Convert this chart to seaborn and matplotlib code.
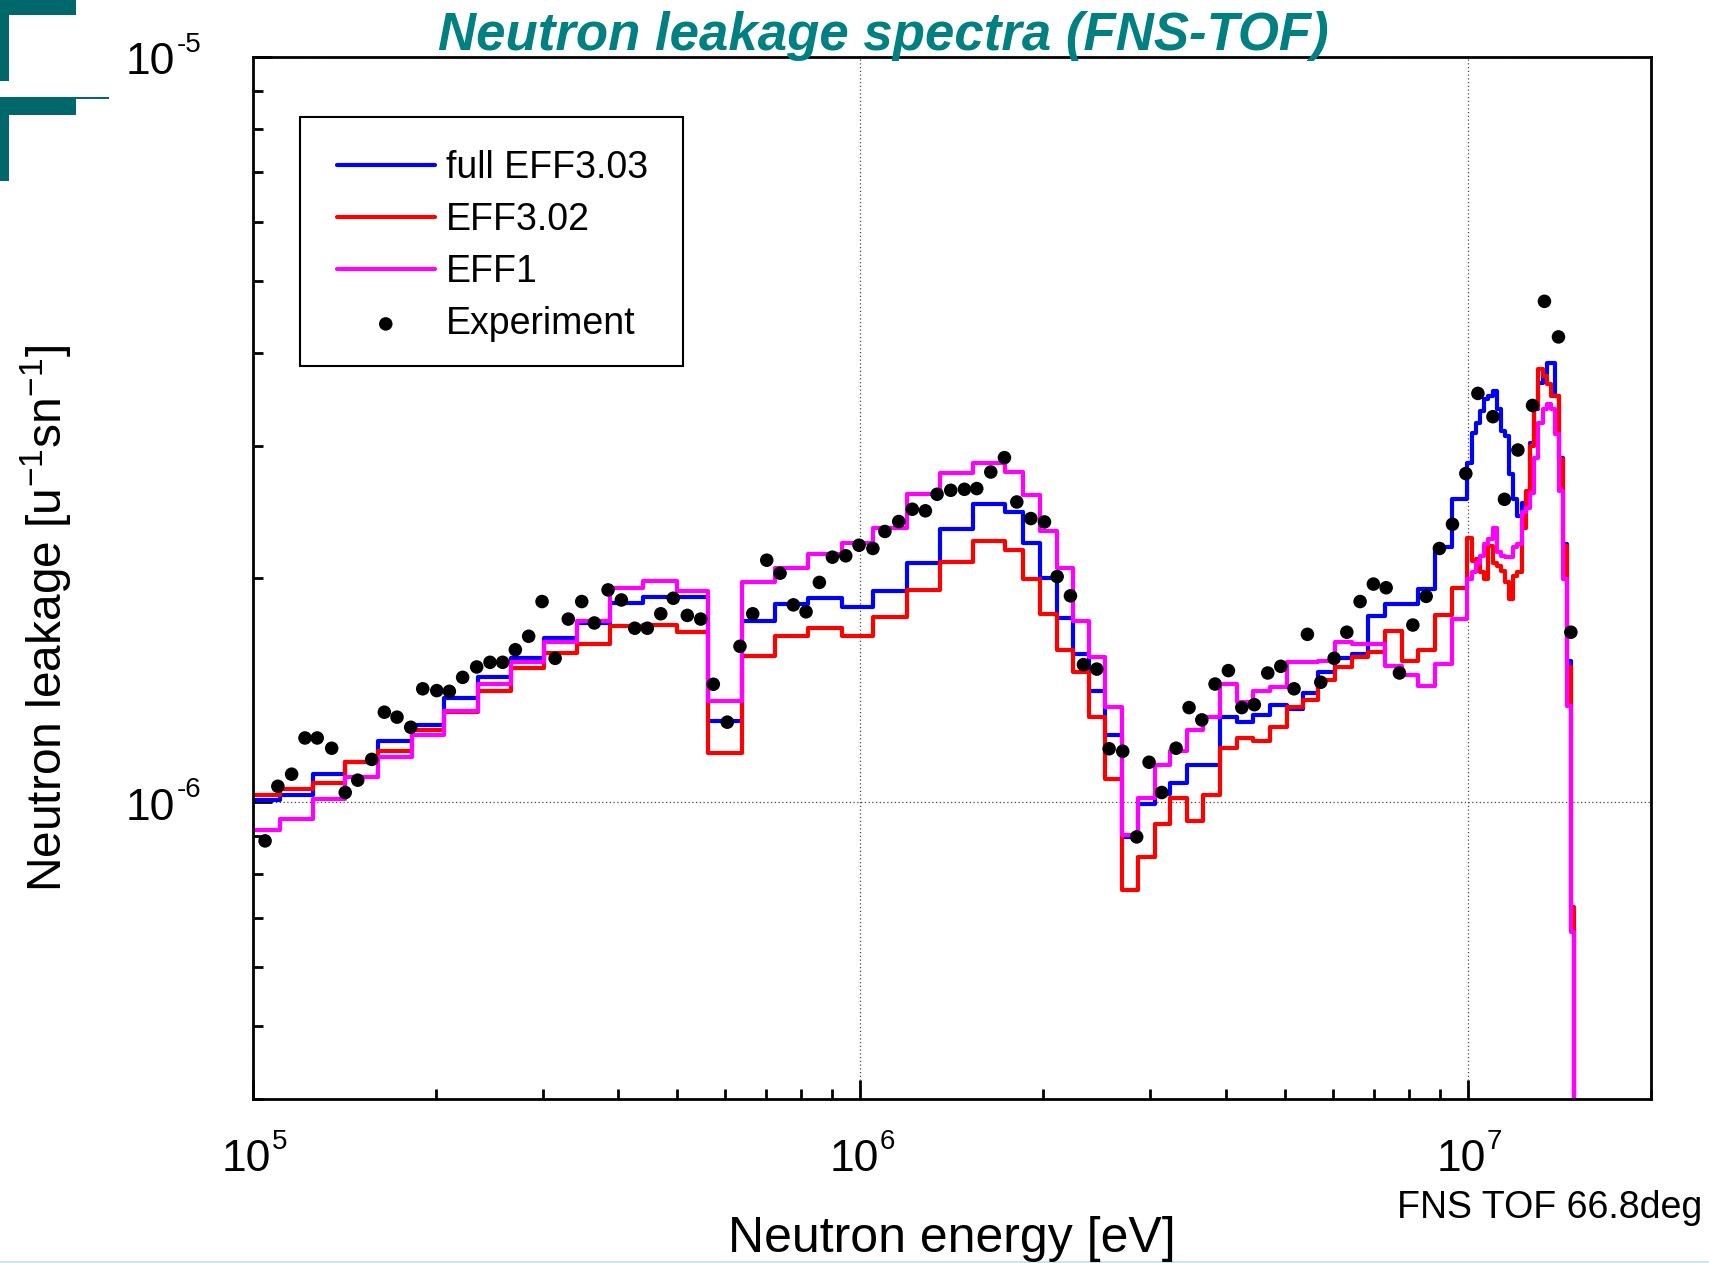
import numpy as np
import pandas as pd
import matplotlib.pyplot as plt
import seaborn as sns
from matplotlib.patches import Rectangle
from matplotlib.ticker import LogLocator, NullFormatter

sns.set_theme(style="white")
plt.rcParams['font.family'] = ['Liberation Sans', 'DejaVu Sans']
plt.rcParams['text.color'] = 'black'
plt.rcParams['mathtext.fontset'] = 'custom'
plt.rcParams['mathtext.rm'] = 'Liberation Sans'
plt.rcParams['mathtext.it'] = 'Liberation Sans:italic'
plt.rcParams['mathtext.bf'] = 'Liberation Sans:bold'

W, H = 1709, 1263

# group boundaries in MeV (common to the three calculations)
edges_mev = [0.1000, 0.1109, 0.1258, 0.1419, 0.1610, 0.1827, 0.2065, 0.2352, 0.2659, 0.3016,
             0.3422, 0.3874, 0.4396, 0.4988, 0.5623, 0.6381, 0.7240, 0.8214, 0.9322, 1.051,
             1.193, 1.353, 1.536, 1.731, 1.856, 1.977, 2.106, 2.243, 2.380, 2.529,
             2.695, 2.870, 3.057, 3.236, 3.447, 3.671, 3.911, 4.166, 4.437, 4.727,
             5.035, 5.363, 5.677, 6.047, 6.441, 6.861, 7.309, 7.785, 8.293, 8.834,
             9.411, 9.985, 10.15, 10.32, 10.48, 10.64, 10.81, 11.00, 11.16, 11.33,
             11.52, 11.70, 11.89, 12.07, 12.27, 12.47, 12.66, 12.86, 13.07, 13.29,
             13.49, 13.70, 13.92, 14.12, 14.33, 14.55, 14.77, 14.96, 15.19]

# leakage per group, units of 1e-6 /u/sn
eff303 = [1.008, 1.021, 1.089, 1.133, 1.209, 1.270, 1.380, 1.470, 1.561, 1.658, 1.739, 1.849, 1.886, 1.886,
          1.286, 1.748, 1.843, 1.878, 1.828, 1.917, 2.090, 2.323, 2.510, 2.447, 2.223, 1.997, 1.766, 1.580,
          1.408, 1.231,
          0.898, 0.995, 1.026, 1.060, 1.120, 1.120, 1.300, 1.280, 1.310, 1.351, 1.333, 1.400, 1.496, 1.560,
          1.580, 1.778, 1.843, 1.843, 1.931, 2.196, 2.549,
          2.854, 3.131, 3.229, 3.346, 3.469, 3.504, 3.558, 3.364, 3.146, 3.098, 2.753, 2.549, 2.421, 2.523,
          2.575, 3.035, 3.364, 3.652, 3.747, 3.885, 3.885, 3.504, 2.898, 2.218, 1.546, 0.677, 0.2]

eff302 = [1.021, 1.042, 1.061, 1.131, 1.170, 1.250, 1.320, 1.411, 1.513, 1.583, 1.630, 1.721, 1.728, 1.692,
          1.163, 1.569, 1.669, 1.710, 1.669, 1.769, 1.927, 2.100, 2.237, 2.177, 1.995, 1.787, 1.601, 1.493,
          1.300, 1.075,
          0.761, 0.844, 0.935, 1.012, 0.942, 1.021, 1.181, 1.218, 1.209, 1.260, 1.341, 1.372, 1.459, 1.516,
          1.564, 1.591, 1.697, 1.547, 1.601, 1.784, 1.935,
          2.264, 2.106, 2.118, 2.033, 1.991, 2.206, 2.096, 2.074, 2.043, 1.971, 1.873, 2.011, 2.033, 2.335,
          2.615, 3.003, 3.381, 3.805, 3.727, 3.633, 3.504, 3.504, 2.883, 2.206, 1.518, 0.724, 0.2]

eff1 = [0.916, 0.948, 1.010, 1.079, 1.151, 1.231, 1.326, 1.440, 1.540, 1.638, 1.751, 1.935, 1.981, 1.920,
        1.368, 1.971, 2.058, 2.150, 2.223, 2.335, 2.589, 2.767, 2.854, 2.776, 2.581, 2.311, 2.060, 1.751,
        1.564, 1.341,
        0.902, 1.012, 1.120, 1.172, 1.251, 1.300, 1.440, 1.361, 1.411, 1.426, 1.543, 1.543, 1.547, 1.641,
        1.630, 1.630, 1.524, 1.480, 1.433, 1.532, 1.760,
        1.991, 2.033, 2.096, 2.139, 2.218, 2.253, 2.335, 2.162, 2.139, 2.129, 2.129, 2.196, 2.218, 2.447,
        2.484, 2.602, 2.898, 3.229, 3.364, 3.416, 3.364, 3.114, 2.615, 1.991, 1.346, 0.670, 0.2]

# FNS TOF measurement (eV, 1e-6 /u/sn)
exp_energy = [1.048e5, 1.100e5, 1.159e5, 1.219e5, 1.277e5, 1.349e5, 1.420e5, 1.489e5, 1.570e5, 1.647e5,
              1.728e5, 1.820e5, 1.905e5, 2.009e5, 2.107e5, 2.216e5, 2.337e5, 2.458e5, 2.579e5, 2.706e5,
              2.846e5, 2.994e5, 3.146e5, 3.307e5, 3.480e5, 3.650e5, 3.845e5, 4.044e5, 4.254e5, 4.462e5,
              4.695e5, 4.923e5, 5.192e5, 5.462e5, 5.730e5, 6.041e5, 6.339e5, 6.653e5, 7.016e5, 7.379e5,
              7.761e5, 8.143e5, 8.564e5, 8.998e5, 9.465e5, 9.954e5, 1.049e6, 1.098e6, 1.157e6, 1.218e6,
              1.280e6, 1.338e6, 1.409e6, 1.484e6, 1.555e6, 1.640e6, 1.727e6, 1.810e6, 1.909e6, 2.010e6,
              2.109e6, 2.218e6, 2.330e6, 2.451e6, 2.568e6, 2.704e6, 2.851e6, 2.988e6, 3.135e6, 3.310e6,
              3.477e6, 3.649e6, 3.837e6, 4.036e6, 4.246e6, 4.453e6, 4.685e6, 4.922e6, 5.176e6, 5.445e6,
              5.728e6, 6.025e6, 6.322e6, 6.648e6, 6.992e6, 7.338e6, 7.717e6, 8.120e6, 8.540e6, 8.981e6,
              9.435e6, 9.925e6, 1.039e7, 1.100e7, 1.149e7, 1.209e7, 1.278e7, 1.337e7, 1.410e7, 1.478e7]
exp_leak = [0.887, 1.050, 1.090, 1.219, 1.219, 1.181, 1.030, 1.070, 1.141, 1.320,
            1.300, 1.260, 1.419, 1.411, 1.408, 1.470, 1.518, 1.540, 1.540, 1.601,
            1.669, 1.858, 1.559, 1.760, 1.858, 1.739, 1.926, 1.867, 1.711, 1.711,
            1.789, 1.877, 1.780, 1.760, 1.439, 1.280, 1.618, 1.789, 2.111, 2.028,
            1.839, 1.800, 1.971, 2.131, 2.140, 2.211, 2.189, 2.307, 2.379, 2.471,
            2.459, 2.588, 2.620, 2.628, 2.634, 2.772, 2.898, 2.527, 2.401, 2.376,
            2.007, 1.891, 1.529, 1.508, 1.179, 1.170, 0.898, 1.131, 1.030, 1.181,
            1.339, 1.289, 1.440, 1.501, 1.339, 1.351, 1.490, 1.521, 1.419, 1.679,
            1.448, 1.559, 1.690, 1.858, 1.961, 1.939, 1.490, 1.728, 1.888, 2.189,
            2.359, 2.759, 3.534, 3.289, 2.548, 2.967, 3.405, 4.697, 4.208, 1.690]

x_major = [1e5, 1e6, 1e7]
y_major = [1e-6, 1e-5]

series = {'full EFF3.03': eff303, 'EFF3.02': eff302, 'EFF1': eff1}
colors = {'full EFF3.03': '#0000ff', 'EFF3.02': '#ff0000', 'EFF1': '#ff00ff'}

edges_ev = np.array(edges_mev) * 1e6
frames = []
for name, vals in series.items():
    v = np.append(vals, vals[-1]) * 1e-6
    frames.append(pd.DataFrame({'E': edges_ev, 'flux': v, 'lib': name}))
df = pd.concat(frames, ignore_index=True)
df_exp = pd.DataFrame({'E': exp_energy, 'flux': np.array(exp_leak) * 1e-6})

fig = plt.figure(figsize=(W / 100, H / 100), dpi=100)
ax = fig.add_axes([252.7 / W, 1 - 1098.7 / H, 1398 / W, 1042 / H])
ax.set_xscale('log')
ax.set_yscale('log')

for name in series:
    sns.lineplot(data=df[df['lib'] == name], x='E', y='flux', color=colors[name], lw=3,
                 drawstyle='steps-post', estimator=None, sort=False, label=name, ax=ax)
sns.scatterplot(data=df_exp, x='E', y='flux', color='black', s=95, edgecolor='none',
                label='Experiment', zorder=5, ax=ax)

ax.set_xlim(1e5, 2e7)
ax.set_ylim(4e-7, 1e-5)
ax.set_xticks(x_major)
ax.set_yticks(y_major)
ax.xaxis.set_minor_locator(LogLocator(base=10, subs=np.arange(2, 10)))
ax.yaxis.set_minor_locator(LogLocator(base=10, subs=np.arange(2, 10)))
for a in (ax.xaxis, ax.yaxis):
    a.set_major_formatter(NullFormatter())
    a.set_minor_formatter(NullFormatter())

ax.grid(True, which='major', linestyle=(0, (1, 2)), color='#444444', lw=0.9)
ax.grid(False, which='minor')
for s in ax.spines.values():
    s.set_color('black')
    s.set_linewidth(2)
ax.tick_params(which='both', direction='in', bottom=True, left=True, top=False, right=False,
               color='black', width=2)
ax.tick_params(which='major', length=14)
ax.tick_params(which='minor', length=7.5)
ax.set_xlabel('')
ax.set_ylabel('')

# tick labels drawn as "10" with a small raised exponent, like the original
for v in x_major:
    e = int(round(np.log10(v)))
    ax.annotate('10', xy=(v, 0), xycoords=('data', 'axes fraction'), xytext=(-6, -61),
                textcoords='offset pixels', ha='center', va='center', fontsize=32)
    ax.annotate(str(e), xy=(v, 0), xycoords=('data', 'axes fraction'), xytext=(19, -43),
                textcoords='offset pixels', ha='left', va='center', fontsize=20)
for v in y_major:
    e = int(round(np.log10(v)))
    ax.annotate('10', xy=(0, v), xycoords=('axes fraction', 'data'), xytext=(-78, -6),
                textcoords='offset pixels', ha='right', va='center', fontsize=32)
    ax.annotate(str(e), xy=(0, v), xycoords=('axes fraction', 'data'), xytext=(-76, 12),
                textcoords='offset pixels', ha='left', va='center', fontsize=20)

handles, labels = ax.get_legend_handles_labels()
ax.legend(handles, labels, loc='upper left', bbox_to_anchor=(337 / W, 1 - 150.5 / H),
          bbox_transform=fig.transFigure, frameon=False, borderpad=0, borderaxespad=0,
          fontsize=27, handlelength=2.6, handletextpad=0.3, labelspacing=0.42, scatterpoints=1)
fig.add_artist(Rectangle((299.7 / W, 1 - 366.2 / H), 383.7 / W, 249.6 / H,
                         transform=fig.transFigure, fill=False, ec='black', lw=1.5))

fig.text(0.5167, 0.9715, 'Neutron leakage spectra (FNS-TOF)', ha='center', va='center',
         fontsize=38, fontweight='bold', fontstyle='italic', color='#008080')
fig.text(0.5569, 0.019, 'Neutron energy [eV]', ha='center', va='center', fontsize=36)
fig.text(0.0269, 0.5102, 'Neutron leakage [u$^{-1}$sn$^{-1}$]', ha='center', va='center',
         rotation=90, fontsize=34.5)
fig.text(0.8173, 0.0354, 'FNS TOF 66.8deg', ha='left', va='baseline', fontsize=27)

# slide template corner marks
deco = '#00686a'
for x0, y0, w, h in [(0, 0, 76, 15), (0, 0, 9, 81), (0, 97, 76, 18), (0, 97, 9, 84), (76, 97, 33, 2)]:
    fig.add_artist(Rectangle((x0 / W, 1 - (y0 + h) / H), w / W, h / H,
                             transform=fig.transFigure, color=deco, lw=0))
fig.add_artist(Rectangle((0, 0), 1, 2 / H, transform=fig.transFigure, color='#cfe6e6', lw=0))

fig.savefig('out.png', dpi=100, facecolor='white')
